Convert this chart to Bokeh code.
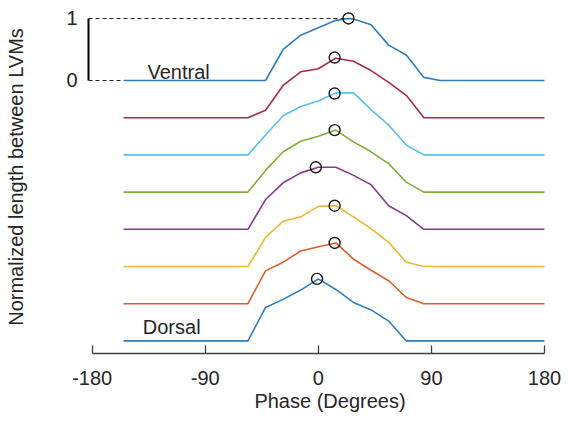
from bokeh.plotting import figure
from bokeh.models import LinearAxis, FixedTicker, Label, Range1d
from bokeh.embed import file_html
from bokeh.resources import INLINE

# ---- data (normalized length) ----
phase = [-155, -56, -42, -28, -14, 0, 14, 28, 42, 56, 70, 84, 180]
ventral_phase = [-155, -42, -28, -14, 0, 14, 24, 28, 42, 56, 70, 84, 97, 180]

ventral = [0, 0, 0.50, 0.73, 0.85, 0.97, 1.00, 0.99, 0.90, 0.57, 0.41, 0.05, 0, 0]
seg2 = [0, 0, 0.12, 0.52, 0.74, 0.79, 0.96, 0.91, 0.76, 0.57, 0.36, 0, 0]
seg3 = [0, 0, 0.32, 0.63, 0.78, 0.87, 1.00, 1.00, 0.73, 0.48, 0.16, 0, 0]
seg4 = [0, 0, 0.35, 0.65, 0.82, 0.90, 1.00, 0.81, 0.65, 0.46, 0.16, 0, 0]
seg5 = [0, 0, 0.48, 0.75, 0.91, 1.00, 1.00, 0.87, 0.72, 0.38, 0.22, 0, 0]
seg6 = [0, 0, 0.47, 0.73, 0.80, 0.97, 0.98, 0.80, 0.61, 0.39, 0.07, 0, 0]
seg7 = [0, 0, 0.53, 0.67, 0.85, 0.92, 0.98, 0.72, 0.54, 0.37, 0.10, 0, 0]
dorsal = [0, 0, 0.54, 0.67, 0.82, 1.00, 0.83, 0.62, 0.50, 0.32, 0, 0, 0]

peak_phase = [24, 13, 13, 13, -2, 13, 13, -1]
peak_value = [1.00, 0.97, 0.99, 1.00, 1.00, 0.98, 0.98, 1.00]

offset_step = 0.6
colors = ["#2f7fbf", "#a82a45", "#5cc0ec", "#7fae3c", "#85398f", "#eeb72f", "#dc5e2a", "#2f7fbf"]

x_ticks = [-180, -90, 0, 90, 180]
scale_ticks = [0, 1]

FONT = "Liberation Sans"
TXT = "#262626"

# ---- figure ----
x_start = -182.9
p = figure(width=571, height=421, output_backend="svg", toolbar_location=None,
           x_range=Range1d(x_start, 201.5), y_range=Range1d(-4.403, 1.29),
           y_axis_location=None, min_border_left=88, min_border_right=0,
           min_border_top=0, min_border_bottom=68)
p.outline_line_color = None
p.xgrid.visible = False
p.ygrid.visible = False
p.background_fill_color = "white"

series = [ventral, seg2, seg3, seg4, seg5, seg6, seg7, dorsal]
for i, vals in enumerate(series):
    xs = ventral_phase if i == 0 else phase
    off = -offset_step * i
    p.line(xs, [v + off for v in vals], line_color=colors[i], line_width=1.6)
    p.scatter([peak_phase[i]], [peak_value[i] + off], size=11, fill_color=None,
              line_color="#1a1a1a", line_width=1.4)

# dashed reference lines to the scale bar
p.line([x_start, peak_phase[0]], [1, 1], line_dash="4 3", line_color="#222222", line_width=1)
p.line([x_start, ventral_phase[0]], [0, 0], line_dash="4 3", line_color="#222222", line_width=1)

# x axis
xa = p.xaxis[0]
xa.ticker = FixedTicker(ticks=x_ticks)
xa.major_label_overrides = {t: str(t) for t in x_ticks}
xa.bounds = (-180, 180)
xa.major_tick_in = 8
xa.major_tick_out = 0
xa.minor_tick_line_color = None
xa.axis_line_color = "#404040"
xa.major_tick_line_color = "#404040"
xa.axis_line_width = 1.3
xa.major_tick_line_width = 1.3
xa.major_label_text_font = FONT
xa.major_label_text_font_size = "20px"
xa.major_label_text_color = TXT
xa.major_label_standoff = 17
xa.axis_label = "Phase (Degrees)"
xa.axis_label_text_font = FONT
xa.axis_label_text_font_size = "20px"
xa.axis_label_text_font_style = "normal"
xa.axis_label_text_color = TXT
xa.axis_label_standoff = 2

# scale bar axis (0..1)
ya = LinearAxis(ticker=FixedTicker(ticks=scale_ticks), bounds=(0, 1))
ya.axis_line_color = "black"
ya.axis_line_width = 2
ya.major_tick_in = 0
ya.major_tick_out = 0
ya.minor_tick_line_color = None
ya.major_label_text_font = FONT
ya.major_label_text_font_size = "20px"
ya.major_label_text_color = TXT
ya.major_label_standoff = 11
p.add_layout(ya, "left")

# y label axis
yl = LinearAxis(ticker=FixedTicker(ticks=[]))
yl.axis_line_color = None
yl.major_tick_line_color = None
yl.minor_tick_line_color = None
yl.axis_label = "Normalized length between LVMs"
yl.axis_label_text_font = FONT
yl.axis_label_text_font_size = "20px"
yl.axis_label_text_font_style = "normal"
yl.axis_label_text_color = TXT
yl.axis_label_standoff = 37
p.add_layout(yl, "left")

p.add_layout(Label(x=-136, y=0.14, text="Ventral", text_font=FONT, text_font_size="20px",
                   text_color=TXT, text_baseline="alphabetic"))
p.add_layout(Label(x=-139.7, y=-offset_step * 7 + 0.22, text="Dorsal", text_font=FONT,
                   text_font_size="20px", text_color=TXT, text_baseline="alphabetic"))

open("out.html", "w").write(file_html(p, INLINE))
